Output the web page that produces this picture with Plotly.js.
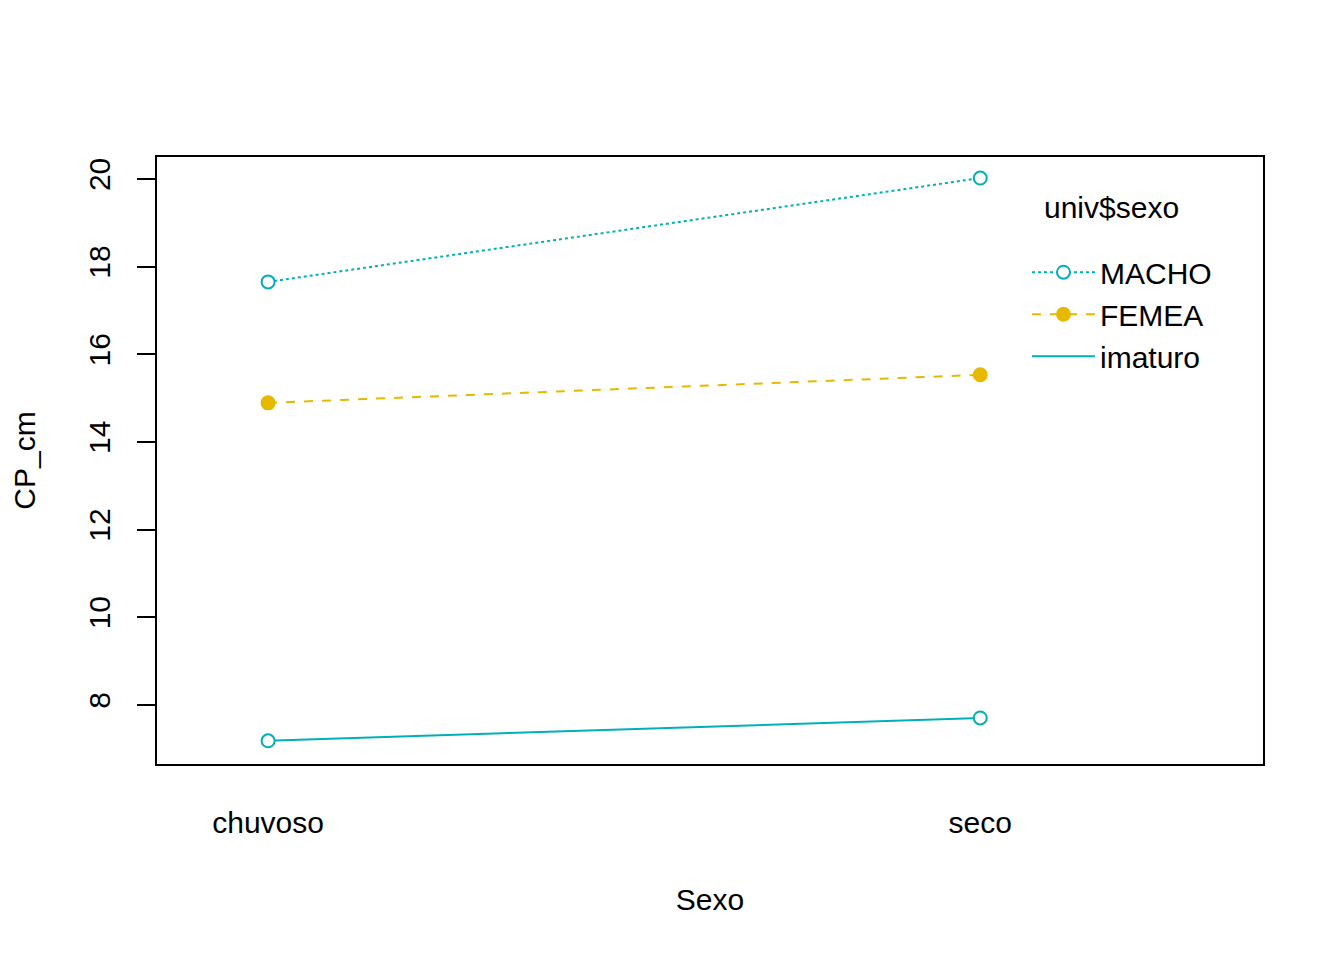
<!DOCTYPE html>
<html>
<head>
<meta charset="utf-8">
<script src="https://cdn.plot.ly/plotly-3.0.1.min.js"></script>
<style>html,body{margin:0;padding:0;background:#fff}#chart{width:1344px;height:960px}</style>
</head>
<body>
<div id="chart"></div>
<script>
const categories = ["chuvoso", "seco"];
const machoValues = [17.65, 20.02];
const femeaValues = [14.89, 15.53];
const imaturoValues = [7.18, 7.70];
const seriesNames = ["MACHO", "FEMEA", "imaturo"];
const legendTitle = "univ$sexo";
const yTicks = [8, 10, 12, 14, 16, 18, 20];

const teal = "#00AFBB";
const gold = "#E7B800";
const font = "Liberation Sans, Arial, sans-serif";
const fs = 30;

const traces = [
  {
    x: categories, y: machoValues, name: seriesNames[0], type: "scatter", mode: "lines+markers",
    line: {color: teal, width: 2, dash: "dot"},
    marker: {symbol: "circle", size: 13, color: "#ffffff", line: {color: teal, width: 2}}
  },
  {
    x: categories, y: femeaValues, name: seriesNames[1], type: "scatter", mode: "lines+markers",
    line: {color: gold, width: 2, dash: "dash"},
    marker: {symbol: "circle", size: 15, color: gold, line: {color: gold, width: 0}}
  },
  {
    x: categories, y: imaturoValues, name: seriesNames[2], type: "scatter", mode: "lines",
    line: {color: teal, width: 2}
  },
  {
    x: categories, y: imaturoValues, name: seriesNames[2], type: "scatter", mode: "markers",
    showlegend: false,
    marker: {symbol: "circle", size: 13, color: "#ffffff", line: {color: teal, width: 2}}
  }
];

const layout = {
  width: 1344, height: 960,
  margin: {l: 157, r: 81, t: 157, b: 196},
  paper_bgcolor: "#ffffff", plot_bgcolor: "#ffffff",
  font: {family: font, size: fs, color: "#000000"},
  showlegend: true,
  xaxis: {
    type: "category", range: [-0.156, 1.397],
    showgrid: false, zeroline: false,
    showline: true, linecolor: "#000", linewidth: 2, mirror: true,
    ticks: "", ticklabelstandoff: 31,
    tickfont: {size: fs, family: font},
    title: {text: "Sexo", font: {size: fs, family: font}, standoff: 51}
  },
  yaxis: {
    range: [6.65, 20.50],
    tickvals: yTicks, ticktext: yTicks.map(String),
    tickangle: -90,
    showgrid: false, zeroline: false,
    showline: true, linecolor: "#000", linewidth: 2, mirror: true,
    ticks: "outside", ticklen: 18, tickwidth: 2, tickcolor: "#000",
    ticklabelstandoff: 15,
    tickfont: {size: fs, family: font},
    title: {text: "CP_cm", font: {size: fs, family: font}, standoff: 39}
  },
  legend: {
    x: 0.7866, y: 0.853, xanchor: "left", yanchor: "top",
    bgcolor: "rgba(0,0,0,0)", borderwidth: 0,
    font: {size: fs, family: font},
    itemwidth: 63
  },
  annotations: [
    {text: legendTitle, xref: "paper", yref: "paper", x: 0.863, y: 0.916,
     xanchor: "center", yanchor: "middle", showarrow: false, font: {size: fs, family: font}}
  ]
};

Plotly.newPlot("chart", traces, layout, {displayModeBar: false, staticPlot: true});
</script>
</body>
</html>
